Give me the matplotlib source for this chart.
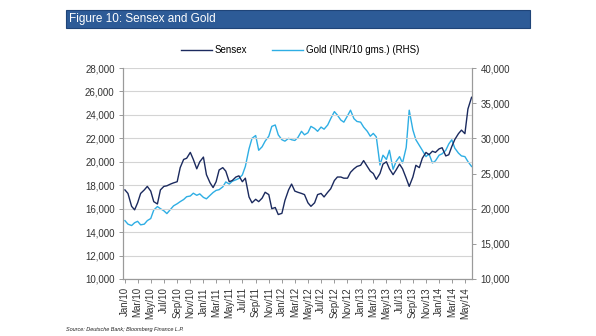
import matplotlib
matplotlib.use("Agg")
import matplotlib.pyplot as plt
import matplotlib.dates as mdates
from matplotlib.patches import Rectangle
from matplotlib.ticker import FuncFormatter, MultipleLocator
import pandas as pd

plt.rcParams['font.family'] = ['Liberation Sans', 'DejaVu Sans']

# semi-monthly readings, Jan 2010 -> end of May 2014
dates = pd.date_range('2010-01-01', periods=107, freq='SMS')

sensex = [
    17600, 17300, 16200, 15900, 16500, 17300, 17600, 17900, 17500, 16600,
    16400, 17600, 17900, 17950, 18100, 18200, 18300, 19500, 20200, 20300,
    20800, 20200, 19400, 20000, 20400, 18900, 18200, 17800, 18300, 19300,
    19500, 19200, 18300, 18400, 18700, 18800, 18300, 18600, 17000, 16500,
    16800, 16600, 16900, 17400, 17200, 16000, 16100, 15500, 15600, 16700,
    17600, 18100, 17500, 17400, 17300, 17200, 16500, 16200, 16500, 17200,
    17300, 17000, 17400, 17700, 18400, 18700, 18700, 18600, 18600, 19100,
    19400, 19600, 19700, 20100, 19600, 19200, 19000, 18500, 19000, 19800,
    20000, 19400, 18900, 19300, 19800, 19400, 18600, 17900, 18700, 19700,
    19500, 20300, 20800, 20600, 20900, 20800, 21100, 21200, 20500, 20600,
    21300, 21900, 22400, 22700, 22400, 24500, 25500,
]

gold = [
    18300, 17800, 17600, 18000, 18200, 17700, 17800, 18300, 18600, 19800,
    20300, 20000, 19700, 19300, 19900, 20400, 20700, 21000, 21300, 21700,
    21800, 22200, 21900, 22100, 21600, 21400, 21900, 22300, 22600, 22700,
    23100, 23800, 23500, 23900, 24100, 24300, 24800, 26000, 28500, 30000,
    30400, 28300, 28800, 29600, 30300, 31700, 31900, 30500, 29800, 29600,
    30000, 29800, 29700, 30100, 31000, 30500, 30800, 31700, 31400, 31000,
    31600, 31300, 31900, 32800, 33800, 33300, 32600, 32300, 33200, 34000,
    32800, 32400, 32300, 31600, 31000, 30300, 30700, 30200, 26200, 27600,
    27000, 28300, 25600, 26700, 27400, 26500, 28700, 34000, 31200, 29800,
    29000, 28300, 27400, 27800, 26500, 26800, 27600, 27800, 28300, 29200,
    29800, 28600, 27900, 27500, 27400, 26700, 26000,
]

navy = '#1b2a5e'
sky = '#2eaee4'
grey_txt = '#333333'
axis_grey = '#9a9a9a'

fig = plt.figure(figsize=(5.96, 3.36), dpi=100)

# title bar
fig.patches.append(Rectangle((66 / 596, 1 - 28 / 336), 464 / 596, 18 / 336,
                             transform=fig.transFigure, facecolor='#2d5b97',
                             edgecolor='#1f4478', linewidth=0.8))
fig.text(69 / 596, 1 - 19 / 336, 'Figure 10: Sensex and Gold', color='white',
         fontsize=8.5, va='center', ha='left')

ax = fig.add_axes([123 / 596, 1 - 279 / 336, 349 / 596, 211 / 336])
ax2 = ax.twinx()

l1, = ax.plot(dates, sensex, color=navy, lw=1.0, label='Sensex')
l2, = ax2.plot(dates, gold, color=sky, lw=1.0, label='Gold (INR/10 gms.) (RHS)')
ax.set_zorder(ax2.get_zorder() + 1)
ax.patch.set_visible(False)

ax.set_ylim(10000, 28000)
ax.yaxis.set_major_locator(MultipleLocator(2000))
ax2.set_ylim(10000, 40000)
ax2.yaxis.set_major_locator(MultipleLocator(5000))
fmt = FuncFormatter(lambda v, p: f'{v:,.0f}')
ax.yaxis.set_major_formatter(fmt)
ax2.yaxis.set_major_formatter(fmt)

ax.set_xlim(pd.Timestamp('2009-12-23'), pd.Timestamp('2014-06-03'))
ax.xaxis.set_major_locator(mdates.MonthLocator(bymonth=[1, 3, 5, 7, 9, 11]))
ax.xaxis.set_major_formatter(mdates.DateFormatter('%b/%y'))
for lab in ax.get_xticklabels():
    lab.set_rotation(90)

ax.grid(axis='y', color='#d4d4d4', lw=0.8)
ax.set_axisbelow(True)

for a in (ax, ax2):
    a.spines['top'].set_visible(False)
    for s in ('left', 'right', 'bottom'):
        a.spines[s].set_color(axis_grey)
        a.spines[s].set_linewidth(0.8)
    a.tick_params(axis='both', labelsize=7, colors=grey_txt, length=3,
                  width=0.7, color=axis_grey, pad=3)

fig.legend(handles=[l1, l2], loc='center', bbox_to_anchor=(0.503, 1 - 50 / 336),
           ncol=2, frameon=False, fontsize=7, handlelength=3.2,
           columnspacing=2.5, handletextpad=0.3)

fig.text(66 / 596, 1 - 329 / 336, 'Source: Deutsche Bank; Bloomberg Finance L.P.',
         fontsize=4, style='italic', color='#222222', va='center')

fig.savefig('out.png', dpi=100)
